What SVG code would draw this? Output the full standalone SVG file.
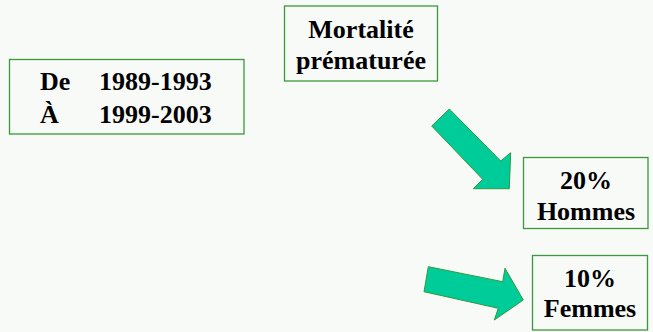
<svg xmlns="http://www.w3.org/2000/svg" width="653" height="332" viewBox="0 0 653 332">
<style>
.box{fill:#f8faf8;stroke:#3a9a3a;stroke-width:1.3}
.t{font-family:"Liberation Serif",serif;font-weight:bold;font-size:26px;fill:#000}
.c{text-anchor:middle}
.arr{fill:#00cc99;stroke:#2e9a3a;stroke-width:1}
</style>
<rect width="653" height="332" fill="#f8faf8"/>
<g id="periode">
<rect class="box" x="9.5" y="59.5" width="234.5" height="74.5"/>
<text class="t" x="40" y="90">De</text>
<text class="t" x="99" y="90">1989-1993</text>
<text class="t" x="40" y="123">À</text>
<text class="t" x="99" y="123">1999-2003</text>
</g>
<g id="mortalite">
<rect class="box" x="284.5" y="6" width="153" height="75"/>
<text class="t c" x="361" y="37.5">Mortalité</text>
<text class="t c" x="361" y="68.5">prématurée</text>
</g>
<g id="hommes">
<rect class="box" x="523.5" y="157.5" width="124.5" height="71"/>
<text class="t c" x="586" y="189">20%</text>
<text class="t c" x="586" y="220">Hommes</text>
</g>
<g id="femmes">
<rect class="box" x="532.5" y="255.5" width="115" height="74.5"/>
<text class="t c" x="590" y="287">10%</text>
<text class="t c" x="590" y="317">Femmes</text>
</g>
<g id="connectors">
<polygon class="arr" points="431.7,126 449.3,109 500.7,161 510.7,152.7 509.3,188.7 473.3,188.7 482.7,179.3"/>
<polygon class="arr" points="428.3,266.7 502.7,281.7 505,268.3 523.3,300 494.3,320 498.3,308.3 424,291.7"/>
</g>
</svg>
